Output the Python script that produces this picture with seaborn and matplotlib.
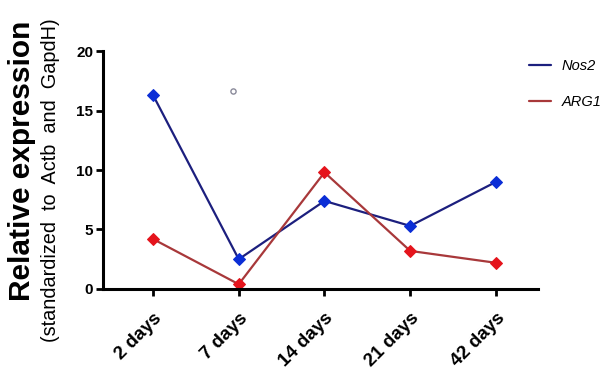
import matplotlib
matplotlib.use("Agg")
import matplotlib.pyplot as plt
from matplotlib.lines import Line2D
import seaborn as sns
import pandas as pd

# ----------- Data ---------------------

timepoints = ["2 days", "7 days", "14 days", "21 days", "42 days"]
nos2 = [16.3, 2.5, 7.4, 5.3, 9.0]
arg1 = [4.2, 0.4, 9.8, 3.2, 2.2]
# stray open circle seen near 7 days
stray_x = [0.93]
stray_y = [16.6]

df = pd.DataFrame({"pos": range(len(timepoints)), "Nos2": nos2, "ARG1": arg1})

# ----------- Build Chart ---------------------

sns.set_style("ticks")
plt.rcParams['font.family'] = ['Liberation Sans', 'DejaVu Sans']
plt.rcParams['text.color'] = 'black'
plt.rcParams['xtick.color'] = 'black'
plt.rcParams['ytick.color'] = 'black'

fig = plt.figure(figsize=(6.11, 3.74), dpi=100)
ax = fig.add_axes([0.1686, 0.2273, 0.7119, 0.6363])

sns.lineplot(data=df, x="pos", y="Nos2", ax=ax, sort=False, color="#1c1f7e", linewidth=1.6,
             marker="D", markersize=6, markerfacecolor="#0b2ed6", markeredgecolor="#0b2ed6")
sns.lineplot(data=df, x="pos", y="ARG1", ax=ax, sort=False, color="#a8383a", linewidth=1.6,
             marker="D", markersize=6, markerfacecolor="#e5141c", markeredgecolor="#e5141c")
sns.scatterplot(x=stray_x, y=stray_y, ax=ax, s=14, facecolor="white", edgecolor="#8a8a9a", linewidth=1)

ax.set_xlim(-0.583, 4.49)
ax.set_ylim(0, 20)
ax.set_yticks([0, 5, 10, 15, 20])
ax.set_xticks(range(len(timepoints)))
ax.set_xticklabels(timepoints, rotation=45, ha="right", rotation_mode="anchor",
                   fontsize=13.5, fontweight="bold")
for lbl in ax.get_yticklabels():
    lbl.set_fontweight("bold")
    lbl.set_fontsize(11)
ax.set_xlabel("")
ax.set_ylabel("")

sns.despine(ax=ax)
for side in ["left", "bottom"]:
    ax.spines[side].set_linewidth(2.2)
    ax.spines[side].set_color("black")
ax.tick_params(axis="both", length=5, width=2, colors="black", pad=2)
ax.tick_params(axis="x", pad=10)

fig.text(0.036, 0.57, "Relative expression", rotation=90, ha="center", va="center",
         fontsize=21.5, fontweight="bold")
fig.text(0.083, 0.518, "(standardized  to  Actb  and  GapdH)", rotation=90, ha="center",
         va="center", fontsize=14.3)

handles = [Line2D([], [], color="#1c1f7e", linewidth=1.6),
           Line2D([], [], color="#a8383a", linewidth=1.6)]
leg = fig.legend(handles, ["Nos2", "ARG1"], loc="upper left", bbox_to_anchor=(0.845, 0.878),
                 frameon=False, handlelength=1.5, handletextpad=0.7, labelspacing=1.5,
                 prop={"style": "italic", "size": 10.5})

fig.savefig("out.png", dpi=100)
